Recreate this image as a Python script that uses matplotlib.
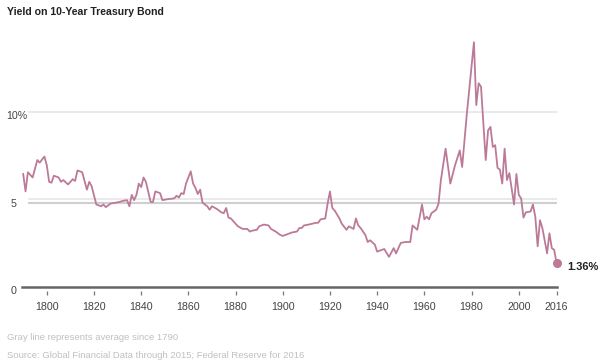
import matplotlib.pyplot as plt
import matplotlib.transforms as mtransforms

# yield data
years = [1790, 1791, 1792, 1794, 1796, 1797, 1799, 1800, 1801, 1802, 1803, 1805,
         1806, 1807, 1809, 1811, 1812, 1813, 1815, 1817, 1818, 1819, 1821, 1823,
         1824, 1825, 1827, 1829, 1831, 1832, 1834, 1835, 1836, 1837, 1838, 1839,
         1840, 1841, 1842, 1844, 1845, 1846, 1848, 1849, 1851, 1854, 1855, 1856,
         1857, 1858, 1859, 1861, 1862, 1863, 1864, 1865, 1866, 1868, 1869, 1870,
         1872, 1874, 1875, 1876, 1877, 1878, 1880, 1881, 1883, 1885, 1886, 1887,
         1889, 1890, 1892, 1894, 1895, 1897, 1899, 1900, 1902, 1904, 1906, 1907,
         1908, 1909, 1911, 1914, 1915, 1916, 1918, 1919, 1920, 1921, 1922, 1924,
         1925, 1927, 1928, 1930, 1931, 1932, 1933, 1935, 1936, 1937, 1939, 1940,
         1942, 1943, 1945, 1947, 1948, 1950, 1952, 1954, 1955, 1957, 1959, 1960,
         1961, 1962, 1963, 1965, 1966, 1967, 1969, 1971, 1973, 1975, 1976, 1978,
         1981, 1982, 1983, 1984, 1986, 1987, 1988, 1989, 1990, 1991, 1992, 1993,
         1994, 1995, 1996, 1998, 1999, 2000, 2001, 2002, 2003, 2005, 2006, 2007,
         2008, 2009, 2010, 2012, 2013, 2014, 2015, 2016]
yields = [6.45, 5.45, 6.55, 6.25, 7.25, 7.1, 7.45, 6.95, 6.0, 5.95, 6.35, 6.25,
          6.0, 6.1, 5.85, 6.15, 6.05, 6.65, 6.55, 5.55, 6.0, 5.75, 4.7, 4.6,
          4.7, 4.55, 4.75, 4.8, 4.85, 4.9, 4.95, 4.6, 5.25, 4.95, 5.25, 5.9,
          5.7, 6.25, 6.0, 4.85, 4.85, 5.45, 5.35, 4.95, 5.0, 5.05, 5.2, 5.1,
          5.35, 5.3, 5.9, 6.6, 5.9, 5.65, 5.3, 5.55, 4.8, 4.6, 4.4, 4.6,
          4.45, 4.25, 4.2, 4.5, 3.95, 3.9, 3.6, 3.45, 3.3, 3.3, 3.15, 3.2,
          3.25, 3.45, 3.55, 3.5, 3.3, 3.15, 2.95, 2.9, 3.0, 3.1, 3.15, 3.35,
          3.35, 3.5, 3.55, 3.65, 3.65, 3.85, 3.9, 4.75, 5.45, 4.5, 4.35, 3.9,
          3.6, 3.25, 3.45, 3.3, 3.9, 3.5, 3.35, 2.95, 2.55, 2.65, 2.4, 2.0,
          2.1, 2.15, 1.7, 2.2, 1.9, 2.5, 2.55, 2.55, 3.5, 3.25, 4.7, 3.85,
          4.0, 3.85, 4.2, 4.4, 4.75, 6.1, 7.9, 5.9, 6.95, 7.8, 6.85, 9.9,
          14.0, 10.4, 11.65, 11.45, 7.25, 8.95, 9.15, 8.0, 8.1, 6.8, 6.7, 5.9,
          7.9, 6.1, 6.5, 4.7, 6.45, 5.25, 5.05, 3.95, 4.25, 4.3, 4.7, 4.0,
          2.3, 3.8, 3.35, 1.9, 3.05, 2.2, 2.1, 1.36]
average = 4.77
x_ticks = [1800, 1820, 1840, 1860, 1880, 1900, 1920, 1940, 1960, 1980, 2000, 2016]
y_ticks = [0, 5, 10]
y_labels = ["0", "5", "10%"]

line_color = "#bc7a98"
plt.rcParams["font.family"] = ["Liberation Sans", "DejaVu Sans"]

fig = plt.figure(figsize=(6, 3.64), dpi=100)
ax = fig.add_axes([22 / 600, 0.2129, 535 / 600, 0.695])
ax.set_xlim(1789.5, 2016.2)
ax.set_ylim(0, 14.5)

# gridlines and average line
gx0 = 7 / 535
ax.axhline(10, xmin=gx0, xmax=1, color="#e6e6e6", lw=1.2, zorder=1)
ax.axhline(5, xmin=gx0, xmax=1, color="#e6e6e6", lw=1.2, zorder=1)
ax.axhline(average, xmin=gx0, xmax=1, color="#cfcfcf", lw=1.5, zorder=1)
ax.axhline(0, color="#666666", lw=1.8, zorder=2, clip_on=False)

ax.plot(years, yields, color=line_color, lw=1.3, zorder=3, solid_joinstyle="round")
ax.plot(years[-1], yields[-1], "o", color=line_color, ms=5.5, zorder=4, clip_on=False)
ax.annotate(f"{yields[-1]:.2f}%", (years[-1], yields[-1]), xytext=(8, -3),
            textcoords="offset points", fontsize=8, fontweight="bold",
            color="#222222", va="center", ha="left", annotation_clip=False)

for s in ax.spines.values():
    s.set_visible(False)
ax.spines["bottom"].set_position(("outward", 3))
ax.set_xticks(x_ticks)
ax.set_xticklabels([str(t) for t in x_ticks])
ax.tick_params(axis="x", length=3.2, width=0.9, color="#777777", pad=5,
               labelsize=7.7, labelcolor="#444444")
ax.set_yticks([])

trans = mtransforms.blended_transform_factory(fig.transFigure, ax.transData)
for v, lab in zip(y_ticks, y_labels):
    x0 = 6.7 / 600 if lab.endswith("%") else 11 / 600
    fig.text(x0, v - 0.25, lab, transform=trans, fontsize=7.7, color="#444444",
             ha="left", va="center")

fig.text(6.7 / 600, 1 - 12 / 364, "Yield on 10-Year Treasury Bond", fontsize=7.6,
         fontweight="bold", color="#222222", ha="left", va="center")
fig.text(7.3 / 600, 1 - 337.7 / 364, "Gray line represents average since 1790",
         fontsize=6.8, color="#c0c0c0", ha="left", va="center")
fig.text(7.3 / 600, 1 - 355 / 364,
         "Source: Global Financial Data through 2015; Federal Reserve for 2016",
         fontsize=6.8, color="#c0c0c0", ha="left", va="center")

fig.savefig("out.png", dpi=100, facecolor="white")
